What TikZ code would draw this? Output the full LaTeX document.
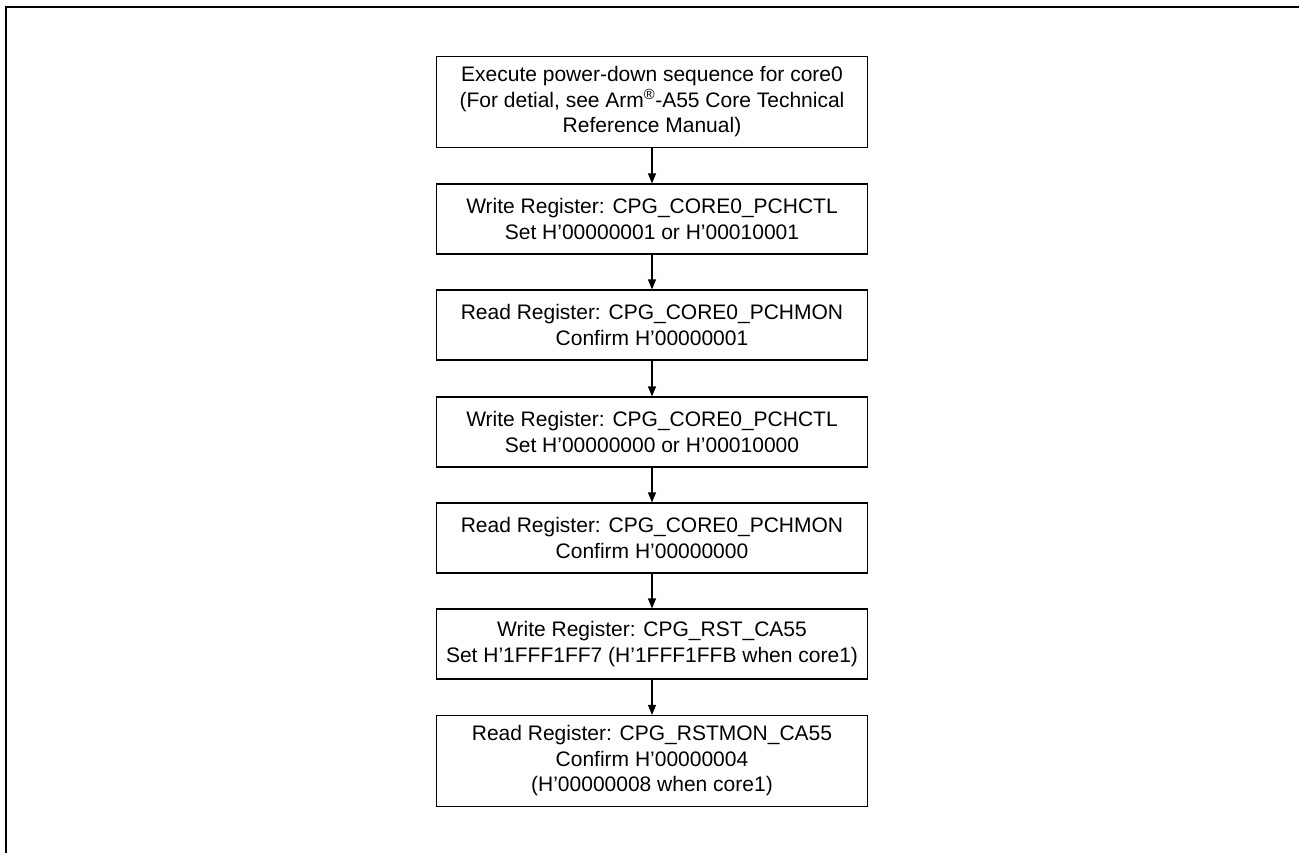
\documentclass[tikz,border=0pt]{standalone}
\usepackage{fontspec}
\setmainfont{Liberation Sans}
\usepackage{tikz}
\usetikzlibrary{arrows.meta}
\tikzset{
  stepbox/.style={draw,line width=1.2pt,minimum width=431pt,minimum height=70pt,
    align=center,inner sep=2pt,font=\fontsize{21}{25.5}\selectfont},
  tallbox/.style={stepbox,minimum height=91pt},
}
\newcommand{\us}{\_}

\begin{document}
\begin{tikzpicture}[x=1pt,y=-1pt,>={Triangle[length=10pt,width=8pt]}]
\useasboundingbox (0,0) rectangle (1299,853);
\draw[line width=2pt] (6,853)--(6,7.5)--(1299,7.5);
\node[tallbox] (pdown) at (652,102) {Execute power-down sequence for core0\\(For detial, see Arm\textsuperscript{®}-A55 Core Technical\\Reference Manual)};
\node[stepbox] (wrpch1) at (652,219) {Write Register: CPG\us CORE0\us PCHCTL\\Set H’00000001 or H’00010001};
\node[stepbox] (rdmon1) at (652,325) {Read Register: CPG\us CORE0\us PCHMON\\Confirm H’00000001};
\node[stepbox] (wrpch0) at (652,432) {Write Register: CPG\us CORE0\us PCHCTL\\Set H’00000000 or H’00010000};
\node[stepbox] (rdmon0) at (652,538) {Read Register: CPG\us CORE0\us PCHMON\\Confirm H’00000000};
\node[stepbox] (wrrst) at (652,644) {Write Register: CPG\us RST\us CA55\\Set H’1FFF1FF7 (H’1FFF1FFB when core1)};
\node[tallbox] (rdrst) at (652,761) {Read Register: CPG\us RSTMON\us CA55\\Confirm H’00000004\\(H’00000008 when core1)};
\draw[->,line width=1.2pt] (pdown)--(wrpch1);
\draw[->,line width=1.2pt] (wrpch1)--(rdmon1);
\draw[->,line width=1.2pt] (rdmon1)--(wrpch0);
\draw[->,line width=1.2pt] (wrpch0)--(rdmon0);
\draw[->,line width=1.2pt] (rdmon0)--(wrrst);
\draw[->,line width=1.2pt] (wrrst)--(rdrst);
\end{tikzpicture}
\end{document}
